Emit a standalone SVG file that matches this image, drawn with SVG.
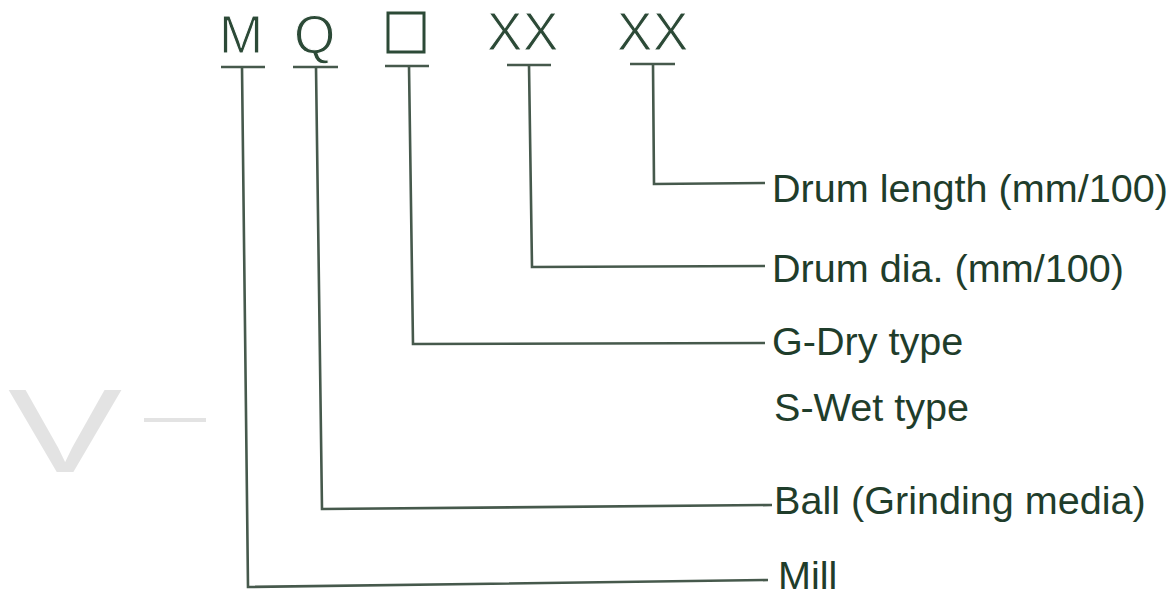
<svg xmlns="http://www.w3.org/2000/svg" width="1173" height="597" viewBox="0 0 1173 597">
<style>
.code{font-family:"Liberation Sans",Arial,sans-serif;font-size:53px;fill:#2c4a37;stroke:#fff;stroke-width:1px;paint-order:normal}
.lbl{font-family:"Liberation Sans",Arial,sans-serif;font-size:39.6px;fill:#1f3d2b}
.ln{fill:none;stroke:#46594c;stroke-width:2.6}
.wm{font-family:"Liberation Sans",Arial,sans-serif;fill:#e3e3e3}
</style>
<rect width="1173" height="597" fill="#fff"/>
<g id="watermark">
<text class="wm" x="0" y="0" font-size="118" transform="translate(8,472) scale(1.45,1)">V</text>
<text class="wm" x="144" y="436" font-size="62">—</text>
</g>
<g id="code">
<text class="code" x="219" y="53">M</text>
<text class="code" x="294" y="53">Q</text>
<rect x="388" y="13" width="36" height="39" fill="none" stroke="#2c4a37" stroke-width="3"/>
<text class="code" x="487" y="50" font-size="49">X</text>
<text class="code" x="523" y="50" font-size="49">X</text>
<text class="code" x="617" y="50" font-size="49">X</text>
<text class="code" x="653" y="50" font-size="49">X</text>
</g>
<g id="connectors">
<line class="ln" x1="221" y1="67" x2="265" y2="67"/>
<polyline class="ln" points="242,67 248,587 768,580"/>
<line class="ln" x1="293" y1="67" x2="338" y2="67"/>
<polyline class="ln" points="316,67 322,509 772,505"/>
<line class="ln" x1="385" y1="66" x2="429" y2="66"/>
<polyline class="ln" points="409,66 413,344 765,343"/>
<line class="ln" x1="507" y1="65" x2="551" y2="65"/>
<polyline class="ln" points="529,65 532,267 765,266"/>
<line class="ln" x1="630" y1="64" x2="675" y2="64"/>
<polyline class="ln" points="653,64 654,184 765,183"/>
</g>
<g id="label-length"><text class="lbl" x="772" y="202">Drum length (mm/100)</text></g>
<g id="label-dia"><text class="lbl" x="772" y="282">Drum dia. (mm/100)</text></g>
<g id="label-gdry"><text class="lbl" x="772" y="355">G-Dry type</text></g>
<g id="label-swet"><text class="lbl" x="774" y="421">S-Wet type</text></g>
<g id="label-ball"><text class="lbl" x="774" y="514">Ball (Grinding media)</text></g>
<g id="label-mill"><text class="lbl" x="778" y="589">Mill</text></g>
</svg>
